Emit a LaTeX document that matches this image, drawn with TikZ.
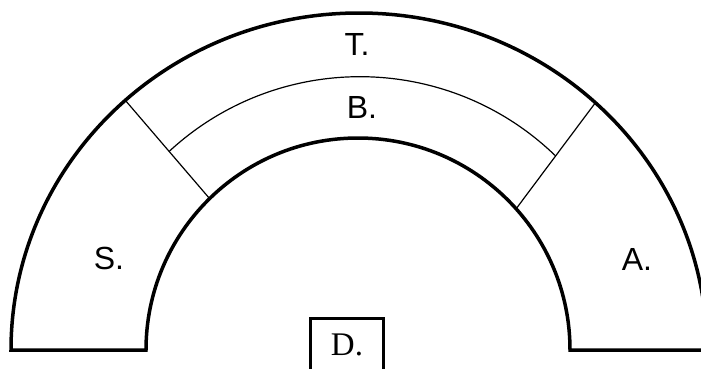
\documentclass[tikz,border=0pt]{standalone}
\usepackage{fontspec}
\setmainfont{Liberation Sans}
\newfontfamily\serifD{Liberation Serif}
\usetikzlibrary{intersections,calc}
\begin{document}
\begin{tikzpicture}[x=1pt,y=1pt,
  thickline/.style={line width=3.5pt, line join=miter},
  thinline/.style={line width=1.2pt},
  lbl/.style={anchor=base, inner sep=0pt, font=\fontsize{32}{36}\selectfont},
  dlbl/.style={anchor=base, inner sep=0pt, font=\serifD\fontsize{33}{36}\selectfont},
  dbox/.style={line width=3pt}
]
\useasboundingbox (0,0) rectangle (701,368);
\fill[white] (0,0) rectangle (701,368);
\clip (0,0) rectangle (701,368);
\coordinate (oc) at (359,18);
\coordinate (ic) at (358,18);
\coordinate (bc) at (360,10.3);
% outer band
\draw[thickline] (146,18) -- (11,18)
  arc[start angle=180, end angle=0, x radius=348, y radius=337]
  -- (570,18)
  arc[start angle=0, end angle=180, radius=212] -- cycle;
% radial separators
\coordinate (olL) at (125.3,267.7);
\coordinate (ilL) at (209.6,169.4);
\coordinate (olR) at (595.4,265.3);
\coordinate (ilR) at (516.1,159.2);
\draw[thinline] (olL) -- (ilL);
\draw[thinline] (olR) -- (ilR);
% B arc
\path[name path=bcirc] (bc) circle[radius=281];
\path[name path=rayL] (olL) -- (ilL);
\path[name path=rayR] (olR) -- (ilR);
\path[name intersections={of=bcirc and rayL, by=jL}];
\path[name intersections={of=bcirc and rayR, by=jR}];
\draw[thinline] let \p1=($(jL)-(bc)$), \p2=($(jR)-(bc)$),
  \n1={atan2(\y1,\x1)}, \n2={atan2(\y2,\x2)} in
  (jL) arc[start angle=\n1, end angle=\n2, radius=281];
% labels
\node[lbl] (T) at (357,313) {T.};
\node[lbl] (B) at (362,250) {B.};
\node[lbl] (S) at (109,99) {S.};
\node[lbl] (A) at (637,98) {A.};
% D box
\draw[dbox] (310,-10) rectangle (383,50);
\node[dlbl] (D) at (347,13) {D.};
\end{tikzpicture}
\end{document}
